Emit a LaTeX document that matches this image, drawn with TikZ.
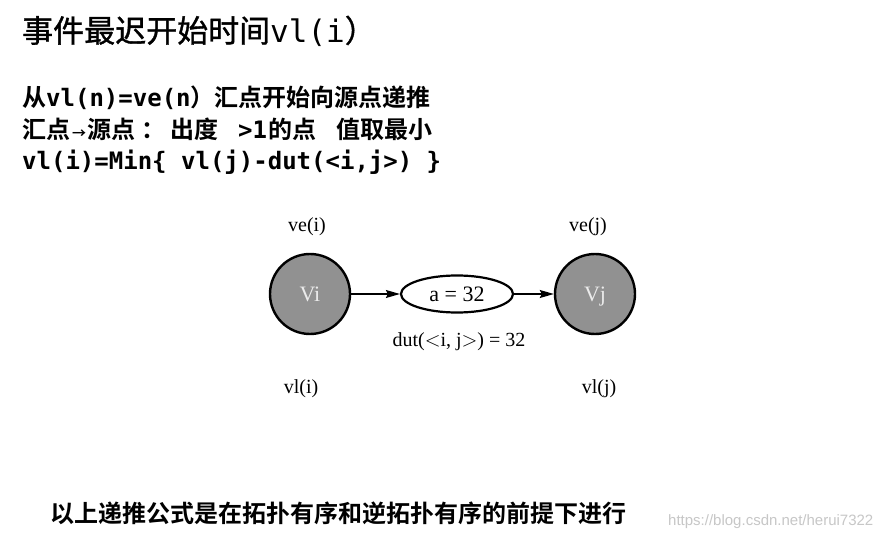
\documentclass[tikz,border=0pt]{standalone}
\usepackage{fontspec}
\setmainfont{Liberation Serif}
\newfontfamily\cjk{Noto Sans CJK SC}[FakeBold=1.2]
\newfontfamily\cjkb{Noto Sans CJK SC}[BoldFont={* Bold}]
\newfontfamily\monob{DejaVu Sans Mono}
\newfontfamily\wmfont{Liberation Sans}
\usetikzlibrary{shapes.geometric,arrows.meta}
\begin{document}
\begin{tikzpicture}[x=1pt,y=-1pt,
  txt/.style={anchor=west,inner sep=0pt},
  l2/.style={anchor=base west,inner sep=0pt,font=\fontsize{24}{28}\selectfont\bfseries\cjkb},
  vtx/.style={circle,draw=black,line width=2.4pt,fill=black!43,minimum size=80pt,inner sep=0pt,text=black!8,font=\fontsize{22}{26}\selectfont,text height=14.5pt,text depth=0pt},
  act/.style={ellipse,draw=black,line width=2.2pt,fill=white,minimum width=112pt,minimum height=37pt,inner sep=0pt,font=\fontsize{22}{26}\selectfont},
  lbl/.style={font=\fontsize{20}{24}\selectfont,inner sep=0pt},
  arr/.style={-{Stealth[length=14pt,width=8pt,inset=2pt]},line width=1.3pt}]
\useasboundingbox[fill=white] (0,0) rectangle (895,540);
\node[txt] (title) at (22,31) {\fontsize{31}{35}\selectfont\cjk 事件最迟开始时间\monob vl(i\cjk ）};
\node[txt] (l1) at (22,98) {\fontsize{24}{28}\selectfont\bfseries\cjkb 从\monob\bfseries vl(n)=ve(n\cjkb\bfseries ）汇点开始向源点递推};
\node[l2] (l2a) at (22,139) {汇点};
\node[l2,font=\fontsize{14}{16}\selectfont\bfseries\cjkb] (l2b) at (72,139) {→};
\node[l2] (l2c) at (87,139) {源点};
\node[l2] (l2d) at (141,139) {：};
\node[l2] (l2e) at (170,139) {出度};
\node[l2,font=\fontsize{24}{28}\selectfont\monob\bfseries] (l2f) at (238,139) {>1};
\node[l2] (l2g) at (268,139) {的点};
\node[l2] (l2h) at (336,139) {值取最小};
\node[txt] (l3) at (22,162) {\fontsize{24}{28}\selectfont\monob\bfseries vl(i)=Min\{ vl(j)-dut(<i,j>) \}};
\node (vi) [vtx] at (310,294) {Vi};
\node (vj) [vtx] at (595,294) {Vj};
\node (a) [act] at (457,294) {a = 32};
\draw[arr] (vi) -- (a);
\draw[arr] (a) -- (vj);
\node[lbl] (vei) at (307,227) {ve(i)};
\node[lbl] (vej) at (588,227) {ve(j)};
\node[lbl] (dut) at (459,342) {dut($<$i, j$>$) = 32};
\node[lbl] (vli) at (301,389) {vl(i)};
\node[lbl] (vlj) at (599,389) {vl(j)};
\node[txt] (bottom) at (50,513) {\fontsize{24}{28}\selectfont\bfseries\cjkb 以上递推公式是在拓扑有序和逆拓扑有序的前提下进行};
\node[txt,text=black!22] (wm) at (668,522) {\fontsize{15}{18}\selectfont\wmfont https://blog.csdn.net/herui7322};
\end{tikzpicture}
\end{document}
